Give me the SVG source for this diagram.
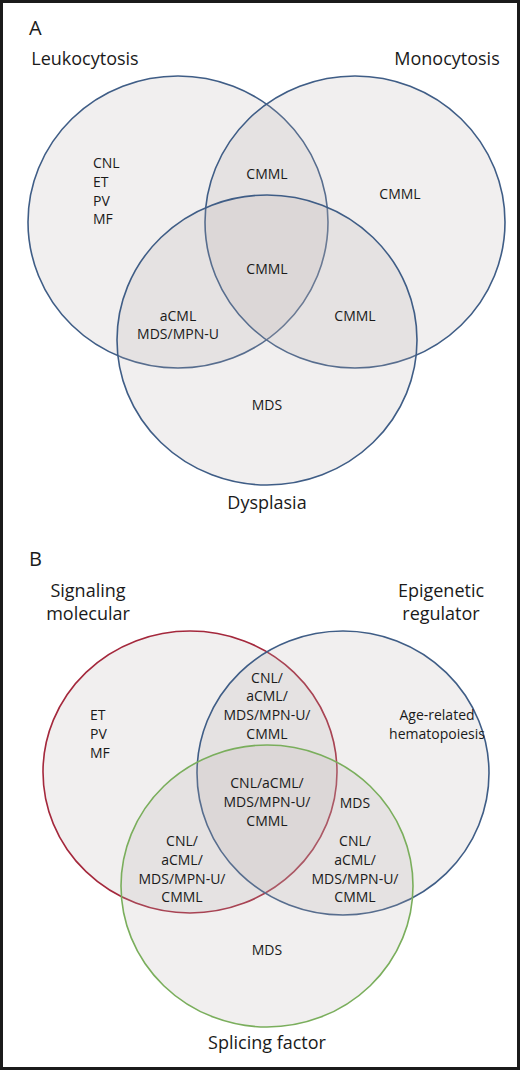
<svg xmlns="http://www.w3.org/2000/svg" width="520" height="1070" viewBox="0 0 520 1070">
<style>
.set{fill:#b8afaf;fill-opacity:0.2;stroke-width:1.6}
.blue{stroke:#3f5d86}
.red{stroke:#a4283c}
.green{stroke:#7aae5c}
text{font-family:"Open Sans","Noto Sans","DejaVu Sans",sans-serif;fill:#1a1a1a}
.lbl{font-size:14px;text-anchor:middle}
.lft{font-size:14px}
.ttl{font-size:18px;text-anchor:middle}
.pnl{font-size:20px}
</style>
<rect x="0" y="0" width="520" height="1070" fill="#1b1b1b"/>
<rect x="3" y="3" width="514" height="1064" fill="#ffffff"/>

<g id="panelA">
<text class="pnl" x="29" y="35">A</text>
<g id="leukocytosis">
<ellipse class="set blue" cx="178" cy="222" rx="150" ry="146"/>
<text class="ttl" x="85" y="65">Leukocytosis</text>
</g>
<g id="monocytosis">
<ellipse class="set blue" cx="355" cy="222" rx="150" ry="146"/>
<text class="ttl" x="447" y="65">Monocytosis</text>
</g>
<g id="dysplasia">
<ellipse class="set blue" cx="267" cy="340" rx="150" ry="145"/>
<text class="ttl" x="267" y="509">Dysplasia</text>
</g>
<g id="regionsA">
<text class="lft" x="93" y="168">CNL</text>
<text class="lft" x="93" y="187">ET</text>
<text class="lft" x="93" y="206">PV</text>
<text class="lft" x="93" y="224">MF</text>
<text class="lbl" x="267" y="179">CMML</text>
<text class="lbl" x="400" y="199">CMML</text>
<text class="lbl" x="267" y="274">CMML</text>
<text class="lbl" x="178" y="321">aCML</text>
<text class="lbl" x="178" y="339">MDS/MPN-U</text>
<text class="lbl" x="355" y="321">CMML</text>
<text class="lbl" x="267" y="410">MDS</text>
</g>
</g>

<g id="panelB">
<text class="pnl" x="29" y="566">B</text>
<g id="signaling">
<ellipse class="set red" cx="190" cy="772" rx="147" ry="141"/>
<text class="ttl" x="88" y="597">Signaling</text>
<text class="ttl" x="88" y="620">molecular</text>
</g>
<g id="epigenetic">
<ellipse class="set blue" cx="343" cy="773" rx="146" ry="142"/>
<text class="ttl" x="441" y="597">Epigenetic</text>
<text class="ttl" x="441" y="620">regulator</text>
</g>
<g id="splicing">
<ellipse class="set green" cx="267" cy="886" rx="146" ry="141"/>
<text class="ttl" x="267" y="1049">Splicing factor</text>
</g>
<g id="regionsB">
<text class="lft" x="90" y="720">ET</text>
<text class="lft" x="90" y="739">PV</text>
<text class="lft" x="90" y="758">MF</text>
<text class="lbl" x="267" y="683">CNL/</text>
<text class="lbl" x="267" y="701">aCML/</text>
<text class="lbl" x="267" y="720">MDS/MPN-U/</text>
<text class="lbl" x="267" y="739">CMML</text>
<text class="lbl" x="437" y="720">Age-related</text>
<text class="lbl" x="437" y="739">hematopoiesis</text>
<text class="lbl" x="267" y="788">CNL/aCML/</text>
<text class="lbl" x="267" y="807">MDS/MPN-U/</text>
<text class="lbl" x="267" y="826">CMML</text>
<text class="lbl" x="355" y="808">MDS</text>
<text class="lbl" x="182" y="846">CNL/</text>
<text class="lbl" x="182" y="865">aCML/</text>
<text class="lbl" x="182" y="884">MDS/MPN-U/</text>
<text class="lbl" x="182" y="902">CMML</text>
<text class="lbl" x="355" y="846">CNL/</text>
<text class="lbl" x="355" y="865">aCML/</text>
<text class="lbl" x="355" y="884">MDS/MPN-U/</text>
<text class="lbl" x="355" y="902">CMML</text>
<text class="lbl" x="267" y="955">MDS</text>
</g>
</g>
</svg>
